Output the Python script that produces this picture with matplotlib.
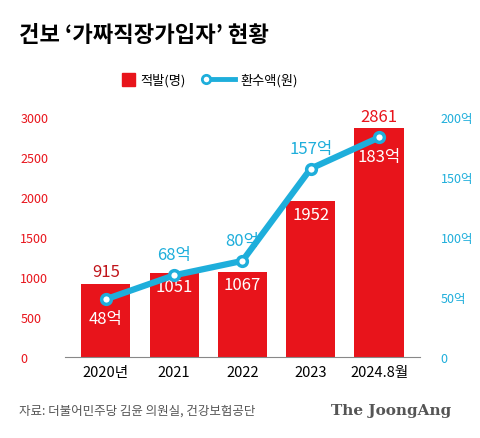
import matplotlib
matplotlib.use("Agg")
import matplotlib.pyplot as plt

plt.rcParams["font.family"] = ["Noto Sans CJK KR", "DejaVu Sans"]

years = ["2020년", "2021", "2022", "2023", "2024.8월"]
cases = [915, 1051, 1067, 1952, 2861]
refund = [48, 68, 80, 157, 183]
left_ticks = [0, 500, 1000, 1500, 2000, 2500, 3000]
right_ticks = [0, 50, 100, 150, 200]

RED = "#e8141b"
CYAN = "#1eaedb"

fig = plt.figure(figsize=(4.8, 4.39), dpi=100)
ax = fig.add_axes([0.135, 0.185, 0.74, 0.546])
ax2 = ax.twinx()

x = range(len(years))
ax.bar(x, cases, width=0.72, color=RED, zorder=2)
ax.set_ylim(0, 3000)
ax.set_xlim(-0.6, 4.6)
ax.set_yticks(left_ticks)
ax.set_yticklabels([str(t) for t in left_ticks], color=RED, fontsize=9, ha="left")
ax.tick_params(axis="y", length=0, pad=32)
ax.set_xticks(list(x))
ax.set_xticklabels(years, fontsize=10.5, fontweight="medium")
ax.tick_params(axis="x", length=0, pad=6)
for s in ["top", "left", "right"]:
    ax.spines[s].set_visible(False)
ax.spines["bottom"].set_color("#888888")

ax2.plot(x, refund, color=CYAN, lw=4.5, zorder=3, marker="o", ms=7,
         mfc="white", mec=CYAN, mew=2.5)
ax2.set_ylim(0, 200)
ax2.set_yticks(right_ticks)
ax2.set_yticklabels([f"{t}억" if t else "0" for t in right_ticks], color=CYAN, fontsize=9)
ax2.tick_params(axis="y", length=0, pad=15)
for s in ax2.spines.values():
    s.set_visible(False)

# bar labels
for i, v in enumerate(cases):
    if i in (0, 4):
        ax.text(i, v + 40, str(v), ha="center", va="bottom", fontsize=12,
                fontweight="medium", color="#c0141a" if i == 0 else RED)
    else:
        ax.text(i, v - 60, str(v), ha="center", va="top", fontsize=12,
                fontweight="medium", color="white")

# line labels
for i, v in enumerate(refund):
    if i in (0, 4):
        ax2.text(i, v - 9, f"{v}억", ha="center", va="top", fontsize=12,
                 fontweight="medium", color="white", zorder=5)
    else:
        ax2.text(i, v + 10, f"{v}억", ha="center", va="bottom", fontsize=12,
                 fontweight="medium", color=CYAN, zorder=5)

fig.text(0.04, 0.905, "건보 ‘가짜직장가입자’ 현황", fontsize=16, fontweight="bold")

# legend
fig.patches.append(plt.Rectangle((0.255, 0.802), 0.027, 0.03, color=RED,
                                 transform=fig.transFigure, figure=fig))
fig.text(0.293, 0.816, "적발(명)", fontsize=9.5, va="center")
fig.lines.append(plt.Line2D([0.43, 0.49], [0.817, 0.817], color=CYAN, lw=3.5,
                            marker="o", markevery=[0], ms=6, mfc="white",
                            mec=CYAN, mew=2, transform=fig.transFigure))
fig.text(0.5, 0.816, "환수액(원)", fontsize=9.5, va="center")

fig.text(0.04, 0.055, "자료: 더불어민주당 김윤 의원실, 건강보험공단", fontsize=9,
         color="#555555")
fig.text(0.94, 0.055, "The JoongAng", fontsize=11, fontweight="bold",
         family="DejaVu Serif", color="#555555", ha="right")

fig.savefig("out.png", dpi=100, facecolor="white")
